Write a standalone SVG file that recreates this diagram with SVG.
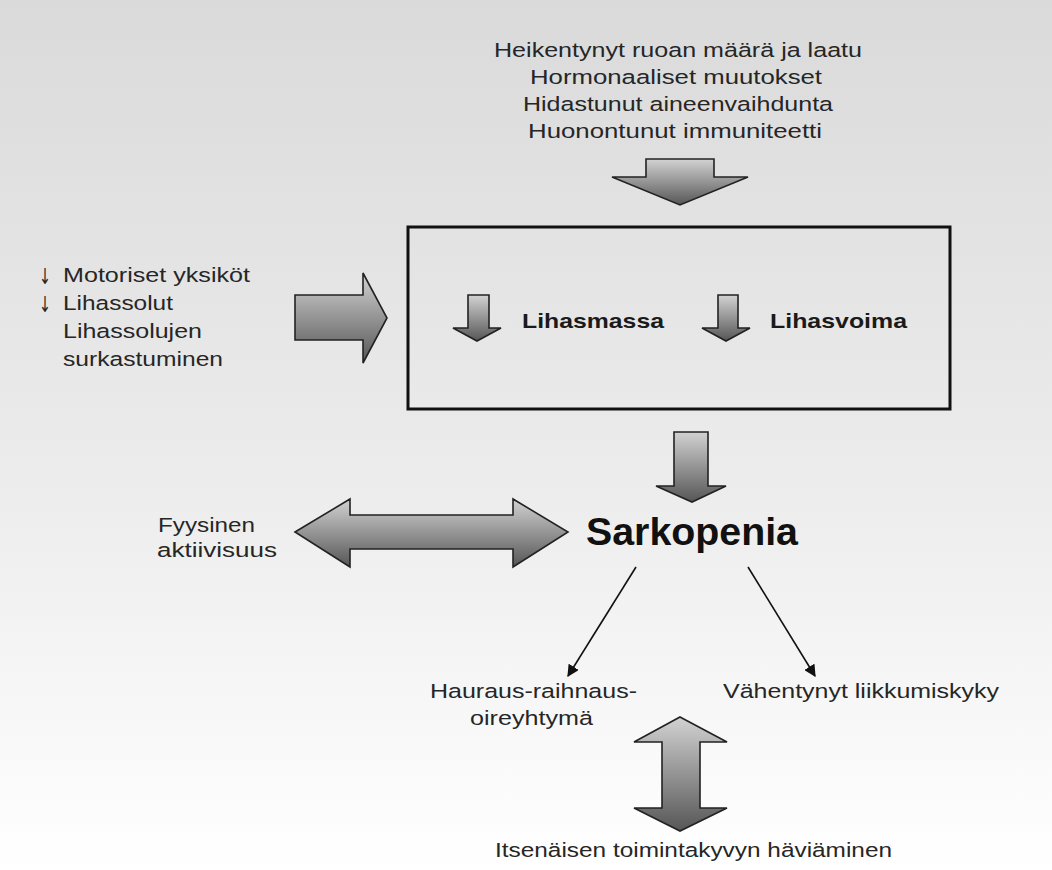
<svg xmlns="http://www.w3.org/2000/svg" width="1052" height="870" viewBox="0 0 1052 870">
<defs>
<linearGradient id="bg" x1="0" y1="0" x2="0" y2="1">
<stop offset="0" stop-color="#dadada"/>
<stop offset="0.55" stop-color="#ececec"/>
<stop offset="1" stop-color="#ffffff"/>
</linearGradient>
<linearGradient id="ag" x1="0" y1="0" x2="0" y2="1">
<stop offset="0" stop-color="#d2d2d2"/>
<stop offset="1" stop-color="#565656"/>
</linearGradient>
<marker id="ah" viewBox="0 0 10 10" refX="9" refY="5" markerWidth="12" markerHeight="12" markerUnits="userSpaceOnUse" orient="auto">
<path d="M0,0 L10,5 L0,10 z" fill="#111"/>
</marker>
<style>
.t{font-family:"Liberation Sans",Arial,sans-serif;font-size:20.5px;fill:#262626}
.g{font-family:"DejaVu Sans",sans-serif;font-size:22px;fill:#262626}
.b{font-family:"Liberation Sans",Arial,sans-serif;font-size:21px;font-weight:bold;fill:#1a1a1a}
.s{font-family:"Liberation Sans",Arial,sans-serif;font-size:38px;font-weight:bold;fill:#111}
.arr{fill:url(#ag);stroke:#222;stroke-width:1.6;stroke-linejoin:miter}
.ln{stroke:#111;stroke-width:1.6;fill:none}
</style>
</defs>
<rect x="0" y="0" width="1052" height="870" fill="url(#bg)"/>

<g id="causes-top">
<text class="t" x="494" y="57" textLength="368" lengthAdjust="spacingAndGlyphs">Heikentynyt ruoan määrä ja laatu</text>
<text class="t" x="530" y="84" textLength="292" lengthAdjust="spacingAndGlyphs">Hormonaaliset muutokset</text>
<text class="t" x="523" y="111" textLength="310" lengthAdjust="spacingAndGlyphs">Hidastunut aineenvaihdunta</text>
<text class="t" x="528" y="138" textLength="294" lengthAdjust="spacingAndGlyphs">Huonontunut immuniteetti</text>
</g>

<g id="causes-left">
<text class="g" x="39" y="284" textLength="12" lengthAdjust="spacingAndGlyphs">↓</text>
<text class="t" x="63" y="282" textLength="187" lengthAdjust="spacingAndGlyphs">Motoriset yksiköt</text>
<text class="g" x="39" y="312" textLength="12" lengthAdjust="spacingAndGlyphs">↓</text>
<text class="t" x="63" y="310" textLength="110" lengthAdjust="spacingAndGlyphs">Lihassolut</text>
<text class="t" x="63" y="338" textLength="139" lengthAdjust="spacingAndGlyphs">Lihassolujen</text>
<text class="t" x="63" y="366" textLength="160" lengthAdjust="spacingAndGlyphs">surkastuminen</text>
</g>

<g id="muscle-box">
<rect x="408" y="227" width="542" height="182" fill="none" stroke="#111" stroke-width="3"/>
<polygon class="arr" points="468,295 489,295 489,328 501,328 477,341 453,328 468,328"/>
<text class="b" x="522" y="328" textLength="142" lengthAdjust="spacingAndGlyphs">Lihasmassa</text>
<polygon class="arr" points="718,295 738,295 738,328 750,328 726,341 702,328 718,328"/>
<text class="b" x="770" y="328" textLength="137" lengthAdjust="spacingAndGlyphs">Lihasvoima</text>
</g>

<g id="sarkopenia">
<text class="s" x="586" y="545" textLength="212" lengthAdjust="spacingAndGlyphs">Sarkopenia</text>
</g>

<g id="physical-activity">
<text class="t" x="158" y="532" textLength="97" lengthAdjust="spacingAndGlyphs">Fyysinen</text>
<text class="t" x="157" y="557" textLength="120" lengthAdjust="spacingAndGlyphs">aktiivisuus</text>
</g>

<g id="frailty">
<text class="t" x="430" y="698" textLength="207" lengthAdjust="spacingAndGlyphs">Hauraus-raihnaus-</text>
<text class="t" x="470" y="725" textLength="123" lengthAdjust="spacingAndGlyphs">oireyhtymä</text>
</g>

<g id="mobility">
<text class="t" x="723" y="698" textLength="276" lengthAdjust="spacingAndGlyphs">Vähentynyt liikkumiskyky</text>
</g>

<g id="independence">
<text class="t" x="495" y="857" textLength="397" lengthAdjust="spacingAndGlyphs">Itsenäisen toimintakyvyn häviäminen</text>
</g>

<g id="connectors">
<polygon class="arr" points="646,159 714,159 714,177 748,177 680,205 612,177 646,177"/>
<polygon class="arr" points="295,295 363,295 363,273 387,318 363,363 363,340 295,340"/>
<polygon class="arr" points="674,432 708,432 708,486 726,486 692,502 656,486 674,486"/>
<polygon class="arr" points="295,532 350,499 350,515 513,515 513,499 568,532 513,567 513,549 350,549 350,567"/>
<polygon class="arr" points="680,717 727,742 700,742 700,808 727,808 680,831 634,808 662,808 662,742 634,742"/>
<line class="ln" x1="636" y1="567" x2="568" y2="676" marker-end="url(#ah)"/>
<line class="ln" x1="748" y1="567" x2="815" y2="676" marker-end="url(#ah)"/>
</g>
</svg>
